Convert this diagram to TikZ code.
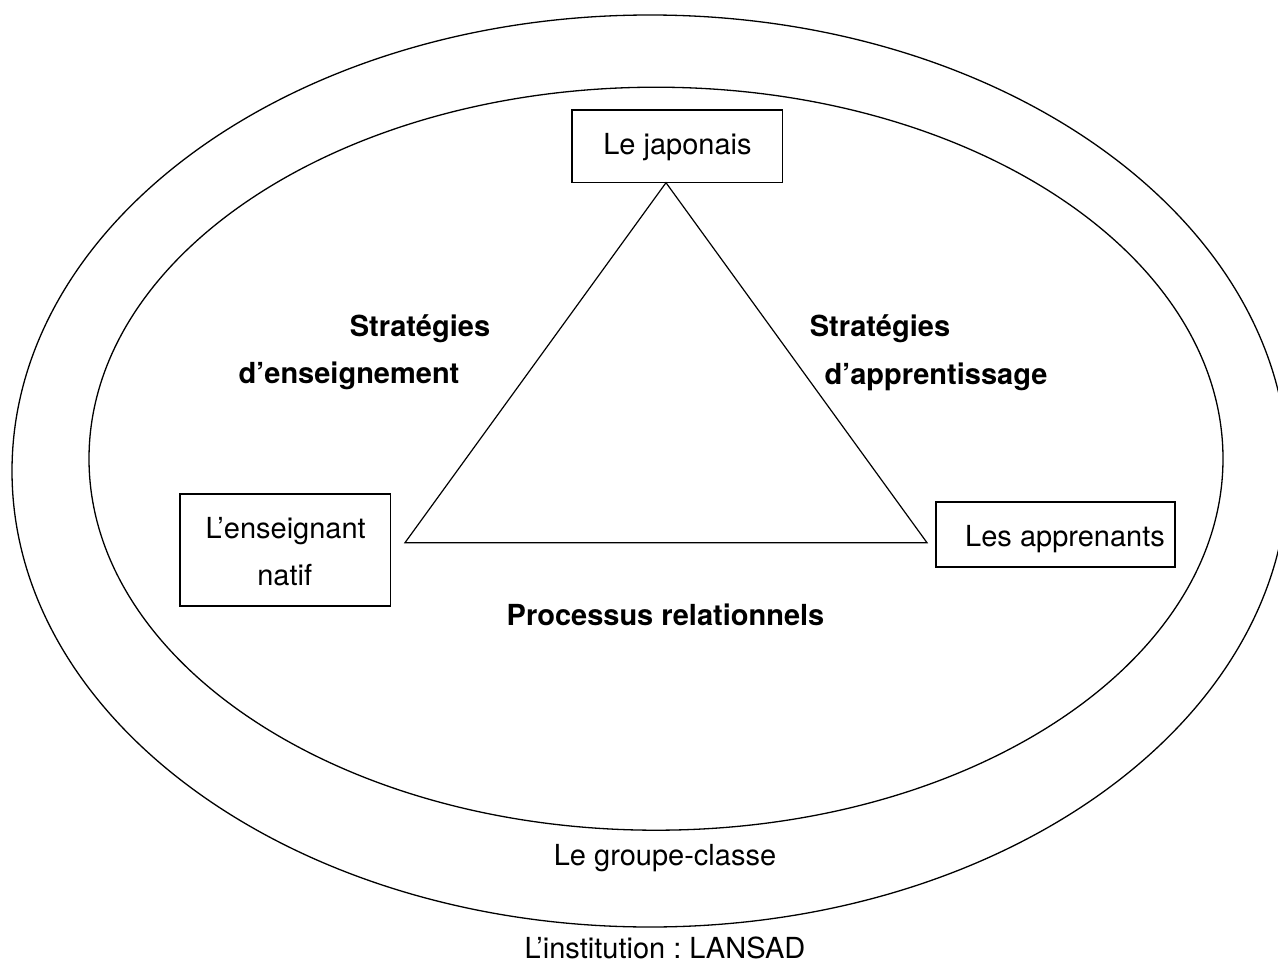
\documentclass[tikz,border=0pt]{standalone}
\usepackage{fontspec}
\setmainfont{TeX Gyre Heros}
\usetikzlibrary{shapes.geometric}
\frenchspacing
\begin{document}
\begin{tikzpicture}[x=1pt,y=-1pt,
  every node/.style={font=\fontsize{29}{47}\selectfont},
  box/.style={draw, line width=1.2pt, inner sep=0pt, rectangle},
  lbl/.style={inner sep=0pt, anchor=base},
  blbl/.style={lbl, font=\fontsize{29}{47}\selectfont\bfseries},
  ring/.style={draw, ellipse, line width=1.3pt, inner sep=0pt},
  edge/.style={line width=1.2pt, line join=miter}]
\useasboundingbox (0,0) rectangle (1278,961);
% rings
\node[ring, minimum width=1276pt, minimum height=912pt] (outer) at (650,471) {};
\node[ring, minimum width=1134pt, minimum height=743pt] (inner) at (656,458.7) {};
% boxes
\node[box, minimum width=210.7pt, minimum height=72.7pt] (jap) at (677.3,146.4) {};
\node[box, minimum width=210.7pt, minimum height=112pt] (ens) at (285.3,550) {};
\node[box, minimum width=239pt, minimum height=65pt] (app) at (1055.5,534.5) {};
% triangle
\coordinate (tA) at (666,182.7);
\coordinate (tB) at (405,542.7);
\coordinate (tC) at (927,542.7);
\draw[edge] (tA) -- (tB) -- (tC) -- cycle;
% labels
\node[lbl] (japt) at (677.5,154) {Le japonais};
\node[lbl] (enst1) at (285.7,538) {L’enseignant};
\node[lbl] (enst2) at (284.7,585) {natif};
\node[lbl] (appt) at (1065,546) {Les apprenants};
\node[blbl] (se1) at (420,336) {Stratégies};
\node[blbl] (se2) at (349,383.6) {d’enseignement};
\node[blbl] (sa1) at (880,336) {Stratégies};
\node[blbl] (sa2) at (936,384) {d’apprentissage};
\node[blbl] (proc) at (665.5,625) {Processus relationnels};
\node[lbl] (grp) at (665,865) {Le groupe-classe};
\node[lbl] (inst) at (665,958.5) {L’institution : LANSAD};
\end{tikzpicture}
\end{document}
